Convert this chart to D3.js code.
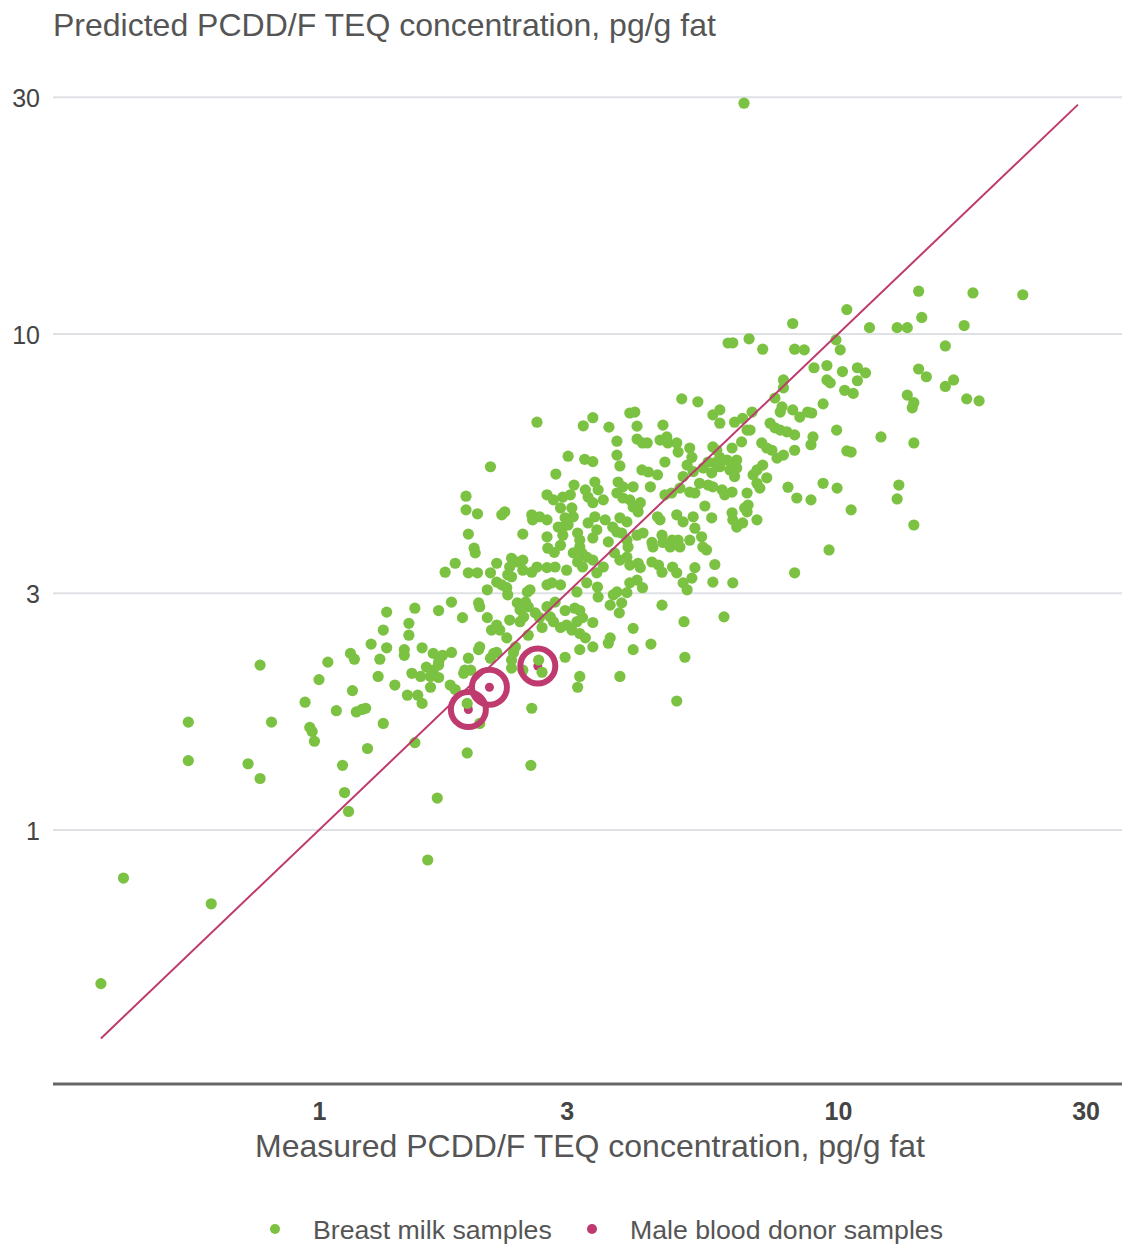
<!DOCTYPE html>
<html>
<head>
<meta charset="utf-8">
<script src="https://cdn.jsdelivr.net/npm/d3@7"></script>
<style>
body{margin:0;background:#fff;}
svg text{font-family:"Liberation Sans",Arial,sans-serif;}
</style>
</head>
<body>
<svg id="chart" width="1122" height="1247"></svg>
<script>
// tick values on both log axes
var yTicks=[1,3,10,30];
var xTicks=[1,3,10,30];
// y = x reference line, from / to (measured)
var identityRange=[0.38,29];
var seriesNames=["Breast milk samples","Male blood donor samples"];
var titleText="Predicted PCDD/F TEQ concentration, pg/g fat";
var xTitleText="Measured PCDD/F TEQ concentration, pg/g fat";

// [measured, predicted] pg/g fat
var donorSamples=[[1.94,1.75],[2.13,1.94],[2.64,2.14]];

var milkSamples=[
[0.38,0.49],[0.42,0.80],[0.62,0.71],[0.56,1.65],[0.56,1.38],[0.73,1.36],[0.77,1.27],[0.77,2.15],[0.81,1.65],[0.94,1.81],
[0.96,1.61],[0.97,1.58],[0.98,1.51],[1.00,2.01],[1.04,2.18],[1.08,1.74],[1.11,1.35],[1.12,1.19],[1.14,1.09],[1.15,2.27],
[1.17,2.21],[1.16,1.91],[1.18,1.73],[1.21,1.75],[1.23,1.76],[1.24,1.46],[1.26,2.37],[1.33,2.53],[1.35,2.75],[1.35,2.33],
[1.31,2.21],[1.30,2.04],[1.33,1.64],[2.56,1.35],[1.69,1.16],[1.62,0.87],
[1.75,3.31],[1.94,3.30],[2.02,3.30],[2.14,3.30],[2.31,3.27],[2.35,3.24],[2.47,3.34],
[2.20,3.16],[2.25,3.12],[2.11,3.05],[2.30,3.08],[2.31,2.98],[2.52,3.02],[2.55,3.05],[2.75,3.12],
[2.81,3.15],[2.92,3.12],[3.14,3.02],[3.28,3.15],[1.80,2.88],[1.53,2.80],[1.70,2.77],[2.03,2.87],[2.04,2.82],[1.89,2.68],
[2.11,2.68],[1.49,2.61],[1.49,2.47],[2.20,2.59],[2.23,2.53],[2.15,2.53],[2.33,2.65],[2.44,2.78],[2.48,2.69],[2.44,2.63],
[2.41,2.87],[2.50,2.88],[2.53,2.82],[2.61,2.74],[2.66,2.68],[2.75,2.82],[2.79,2.69],[2.83,2.63],[2.92,2.56],[2.69,2.56],
[2.85,2.88],[2.98,2.77],[3.11,2.80],[3.18,2.77],[3.22,2.68],[3.14,2.63],[3.37,2.62],[3.00,2.59],[3.07,2.53],[3.18,2.49],
[3.26,2.44],[2.30,2.44],[2.39,2.34],[2.37,2.28],[2.53,2.47],[2.04,2.34],[2.03,2.31],[2.14,2.22],[2.17,2.27],[2.20,2.28],
[1.46,2.31],[1.46,2.25],[1.58,2.33],[1.66,2.27],[1.71,2.22],[1.70,2.18],[1.73,2.25],[1.80,2.28],[1.61,2.13],[1.66,2.10],
[1.70,2.15],[1.64,2.04],[1.70,2.03],[1.51,2.07],[1.57,2.04],[1.40,1.96],[1.64,1.94],[1.79,1.96],[1.48,1.87],[1.55,1.87],
[1.58,1.80],[1.91,2.10],[1.96,2.10],[1.94,2.22],[1.90,2.07],[1.83,1.92],[1.93,1.80],[2.04,1.64],[2.35,2.12],[2.35,2.20],
[2.47,2.10],[2.69,2.08],[2.65,2.20],[2.98,2.23],[3.18,2.31],[3.18,2.04],[3.15,1.94],[3.37,2.34],[1.53,1.50],[1.93,1.43],
[2.57,1.76],
[2.63,6.64],[3.23,6.53],[3.37,6.78],[3.02,5.67],[3.25,5.59],[3.37,5.53],[2.14,5.40],[2.86,5.22],[3.40,5.03],[3.10,4.96],
[2.75,4.74],[2.83,4.63],[2.95,4.69],[3.05,4.74],[3.26,4.85],[3.30,4.69],[3.37,4.57],[1.92,4.71],[1.92,4.42],[2.02,4.34],
[2.25,4.32],[2.28,4.38],[2.57,4.32],[2.58,4.22],[2.66,4.28],[2.75,4.22],[2.92,4.46],[2.98,4.26],[3.07,4.46],[3.09,4.28],
[3.40,4.28],[2.89,4.08],[2.95,4.08],[3.02,4.12],[3.30,4.16],[3.43,4.03],[2.47,3.95],[2.75,3.90],[2.95,3.93],[3.15,3.97],
[3.18,3.84],[3.37,3.88],[1.94,3.95],[1.99,3.70],[2.00,3.62],[2.76,3.70],[2.84,3.63],[2.92,3.75],[3.09,3.62],[3.18,3.72],
[3.28,3.55],[1.83,3.45],[2.20,3.45],[2.35,3.53],[2.41,3.47],[2.47,3.50],[2.33,3.39],[2.57,3.31],[2.63,3.39],[2.75,3.38],
[2.85,3.39],[3.00,3.34],[3.15,3.47],[3.22,3.39],[3.37,3.50],[3.43,3.30],
[5.00,7.40],[5.37,7.30],[7.85,8.08],[3.97,6.93],[4.06,6.96],[3.62,6.49],[4.10,6.52],[4.60,6.55],[5.74,6.87],[5.92,7.03],
[5.92,6.61],[6.32,6.64],[6.55,6.76],[6.83,6.96],[6.68,6.40],[6.77,6.40],[7.56,7.43],[7.74,6.96],[7.80,7.13],[8.18,7.03],
[7.40,6.61],[7.56,6.47],[7.74,6.40],[7.97,6.35],[8.25,6.26],[3.75,6.08],[4.10,6.14],[4.20,6.03],[4.29,6.03],[4.54,6.11],
[4.68,6.20],[4.70,6.03],[4.89,6.03],[4.92,5.78],[5.18,5.89],[5.23,5.64],[5.74,5.92],[5.84,5.83],[5.92,5.64],[6.11,5.57],
[6.25,5.89],[6.52,6.06],[6.38,5.57],[6.27,5.37],[7.13,6.03],[7.29,5.89],[7.46,5.83],[7.63,5.62],[7.85,5.70],[8.25,5.83],
[3.75,5.70],[3.80,5.42],[4.64,5.52],[4.19,5.32],[4.31,5.27],[4.49,5.20],[5.03,5.16],[5.12,5.44],[5.26,5.28],[5.50,5.37],
[5.62,5.52],[5.71,5.25],[5.79,5.50],[5.92,5.40],[6.19,5.32],[6.38,5.37],[6.32,5.16],[6.98,5.32],[7.16,5.44],[6.86,5.20],
[7.29,5.13],[8.01,4.91],[8.33,4.67],[3.77,5.03],[3.85,4.92],[4.03,4.92],[4.35,4.92],[4.64,4.74],[4.78,4.78],
[4.96,4.89],[5.18,4.80],[5.30,4.78],[5.41,5.00],[5.62,4.96],[5.74,4.92],[5.98,4.85],[6.05,4.74],[6.25,4.80],[6.68,4.78],
[6.98,5.00],[7.07,4.89],[6.61,4.46],[6.68,4.38],[6.71,4.52],[5.54,4.50],[5.71,4.26],[6.25,4.36],[6.27,4.22],[6.38,4.08],
[6.55,4.16],[6.98,4.22],[4.89,4.32],[5.03,4.18],[5.26,4.28],[5.30,4.06],[4.49,4.28],[4.54,4.22],[3.45,4.85],
[3.53,4.63],[3.75,4.78],[3.85,4.67],[3.97,4.63],[4.03,4.48],[4.10,4.46],[4.12,4.38],[4.16,4.57],[3.80,4.26],[3.92,4.18],
[3.68,4.08],[3.75,3.99],[3.56,4.22],[3.61,3.81],[3.83,3.97],[3.92,3.84],
[3.94,3.72],[4.10,3.93],[4.21,3.97],[4.38,3.80],[4.40,3.72],[4.58,3.93],[4.60,3.80],[4.79,3.84],[4.75,3.72],[4.92,3.84],
[4.96,3.72],[5.18,3.84],[5.46,3.90],[5.49,3.72],[5.58,3.67],[3.71,3.62],[3.80,3.50],[3.92,3.55],[3.97,3.42],[4.12,3.45],
[4.16,3.38],[4.38,3.47],[4.51,3.42],[4.58,3.31],[4.80,3.39],[4.89,3.30],[5.30,3.38],[5.79,3.43],[3.21,3.62],
[3.53,3.39],[8.25,3.30],
[3.44,3.09],[3.45,2.95],[3.69,2.98],[3.75,3.02],[3.92,3.01],[3.64,2.84],[3.83,2.87],[3.97,3.15],[4.10,3.19],[4.20,3.08],
[5.03,3.15],[5.12,3.05],[5.23,3.22],[5.74,3.16],[6.27,3.15],[4.58,2.84],[3.79,2.74],[4.03,2.55],[5.05,2.63],[6.03,2.69],
[3.64,2.44],[3.61,2.38],[4.36,2.37],[4.03,2.31],[5.07,2.23],[3.80,2.04],[4.89,1.82],
[6.14,9.59],[6.27,9.60],[6.74,9.78],[7.16,9.32],[8.18,10.5],[8.25,9.32],
[14.3,12.2],[18.2,12.1],[22.7,12.0],[10.4,11.2],[14.5,10.8],[11.5,10.3],[13.0,10.3],[13.6,10.3],[17.5,10.4],[9.91,9.73],
[10.1,9.29],[8.61,9.29],[16.1,9.46],[7.85,7.79],[8.99,8.55],[9.52,8.64],[10.2,8.40],[10.9,8.55],[11.3,8.35],[10.9,8.05],
[9.52,8.08],[9.66,7.97],[10.3,7.70],[10.7,7.59],[14.3,8.50],[14.8,8.20],[13.6,7.53],[14.0,7.27],[13.9,7.10],[16.1,7.84],
[16.7,8.08],[17.7,7.40],[18.7,7.33],[8.44,6.80],[8.74,6.96],[8.90,6.93],[9.36,7.23],[8.95,6.20],[8.87,5.98],[9.94,6.40],
[12.1,6.20],[14.0,6.03],[10.4,5.81],[10.6,5.78],[8.87,4.63],[9.36,5.00],[9.96,4.89],[10.6,4.42],[13.1,4.96],[13.0,4.65],
[14.0,4.12],[9.61,3.67],
[6.59,29.2]
];

var green="#7bc242";
var plum="#bf3a6e";

function drawChart(){
	var svg=d3.select("#chart");
	var left=53, right=1122, bottom=1084;

	//log scales, one decade = 519px across, 496px up
	var x=d3.scaleLog().domain([1,10]).range([319,838]);
	var y=d3.scaleLog().domain([1,10]).range([830,334]);

	//horizontal grid
	svg.append("g").selectAll("line")
		.data(yTicks)
		.enter()
		.append("line")
		.attr("x1",left).attr("x2",right)
		.attr("y1",function(d){ return y(d); })
		.attr("y2",function(d){ return y(d); })
		.attr("stroke","#dfe1e4")
		.attr("stroke-width",2);

	//y labels
	var yAxis=d3.axisLeft(y).tickValues(yTicks).tickFormat(d3.format("d")).tickSize(0).tickPadding(0);
	var gy=svg.append("g").attr("transform","translate(40,0)").call(yAxis);
	gy.select(".domain").remove();
	gy.attr("font-family",null).attr("font-size",null);
	gy.selectAll("text").attr("font-size",25).attr("fill","#444").attr("dy","0.36em");

	//x axis line + bold labels
	svg.append("line")
		.attr("x1",left).attr("x2",right)
		.attr("y1",bottom).attr("y2",bottom)
		.attr("stroke","#666").attr("stroke-width",3);
	var xAxis=d3.axisBottom(x).tickValues(xTicks).tickFormat(d3.format("d")).tickSize(0).tickPadding(0);
	var gx=svg.append("g").attr("transform","translate(0,1102)").call(xAxis);
	gx.select(".domain").remove();
	gx.attr("font-family",null).attr("font-size",null);
	gx.selectAll("text").attr("font-size",25).attr("font-weight","bold").attr("fill","#444");

	//titles
	svg.append("text").attr("x",left).attr("y",36)
		.attr("font-size",32).attr("fill","#555").text(titleText);
	svg.append("text").attr("x",590).attr("y",1157).attr("text-anchor","middle")
		.attr("font-size",32).attr("fill","#555").text(xTitleText);

	//donor centre dots (under the milk points)
	svg.append("g").selectAll("circle")
		.data(donorSamples)
		.enter()
		.append("circle")
		.attr("cx",function(d){ return x(d[0]); })
		.attr("cy",function(d){ return y(d[1]); })
		.attr("r",4.5)
		.attr("fill",plum);

	//breast milk points
	svg.append("g").selectAll("circle")
		.data(milkSamples)
		.enter()
		.append("circle")
		.attr("cx",function(d){ return x(d[0]); })
		.attr("cy",function(d){ return y(d[1]); })
		.attr("r",5.6)
		.attr("fill",green);

	//y = x line
	var line=d3.line()
		.x(function(d){ return x(d); })
		.y(function(d){ return y(d); });
	svg.append("path")
		.datum(identityRange)
		.attr("d",line)
		.attr("fill","none")
		.attr("stroke",plum)
		.attr("stroke-width",2);

	//rings round donor samples
	svg.append("g").selectAll("circle")
		.data(donorSamples)
		.enter()
		.append("circle")
		.attr("cx",function(d){ return x(d[0]); })
		.attr("cy",function(d){ return y(d[1]); })
		.attr("r",17.5)
		.attr("fill","none")
		.attr("stroke",plum)
		.attr("stroke-width",6);

	//legend
	var legendX=[275,592];
	var legendColor=[green,plum];
	var lg=svg.append("g").selectAll("g")
		.data(seriesNames)
		.enter()
		.append("g")
		.attr("transform",function(d,i){ return "translate("+legendX[i]+",1229)"; });
	lg.append("circle").attr("r",5).attr("fill",function(d,i){ return legendColor[i]; });
	lg.append("text").attr("x",38).attr("y",10)
		.attr("font-size",26.7).attr("fill","#555")
		.text(function(d){ return d; });
}

drawChart();
</script>
</body>
</html>
